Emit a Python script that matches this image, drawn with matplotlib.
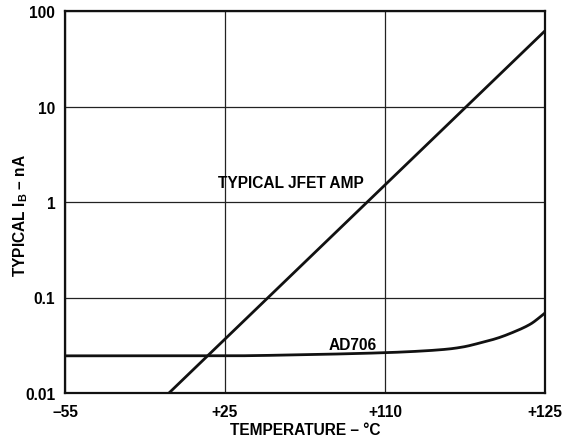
import matplotlib
matplotlib.use("Agg")
import matplotlib.pyplot as plt
import numpy as np

plt.rcParams['font.family'] = ['Liberation Sans', 'DejaVu Sans']
plt.rcParams['font.weight'] = 'bold'
plt.rcParams['mathtext.fontset'] = 'custom'
plt.rcParams['mathtext.rm'] = 'Liberation Sans:bold'
plt.rcParams['mathtext.default'] = 'rm'

# x axis: equally spaced temperature ticks (axis position units)
x_tick_labels = ['–55', '+25', '+110', '+125']
y_tick_values = [0.01, 0.1, 1, 10, 100]
y_tick_labels = ['0.01', '0.1', '1', '10', '100']

# Typical JFET amp (straight line on log scale)
jfet_x = [0.65, 3.0]
jfet_y = [0.01, 62]

# AD706 bias current
ad706_x = [0.0, 0.5, 1.0, 1.5, 1.99, 2.175, 2.39, 2.49, 2.59, 2.70, 2.80, 2.91, 3.0]
ad706_y = [0.0245, 0.0245, 0.0245, 0.0252, 0.0264, 0.0272, 0.0288, 0.0304, 0.0333, 0.0374, 0.0432, 0.0528, 0.0688]

FS = 11.2


def pchip(x, y, xs):
    x = np.asarray(x, float)
    y = np.asarray(y, float)
    h = np.diff(x)
    d = np.diff(y) / h
    m = np.zeros_like(y)
    for k in range(1, len(x) - 1):
        if d[k - 1] * d[k] > 0:
            w1 = 2 * h[k] + h[k - 1]
            w2 = h[k] + 2 * h[k - 1]
            m[k] = (w1 + w2) / (w1 / d[k - 1] + w2 / d[k])
    m[0] = d[0]
    m[-1] = d[-1]
    idx = np.clip(np.searchsorted(x, xs) - 1, 0, len(x) - 2)
    t = (xs - x[idx]) / h[idx]
    h00 = 2 * t**3 - 3 * t**2 + 1
    h10 = t**3 - 2 * t**2 + t
    h01 = -2 * t**3 + 3 * t**2
    h11 = t**3 - t**2
    return h00 * y[idx] + h10 * h[idx] * m[idx] + h01 * y[idx + 1] + h11 * h[idx] * m[idx + 1]


fig = plt.figure(figsize=(5.71, 4.39), dpi=100)
ax = fig.add_axes([65/571, 1-394/439, (545-65)/571, (394-12)/439])

ax.set_yscale('log')
ax.set_xlim(0, 3)
ax.set_ylim(0.01, 100)

ax.set_xticks(range(len(x_tick_labels)))
ax.set_xticklabels(x_tick_labels)
ax.set_yticks(y_tick_values)
ax.set_yticklabels(y_tick_labels)
ax.yaxis.set_minor_locator(matplotlib.ticker.NullLocator())
ax.tick_params(axis='x', length=0, labelsize=FS, pad=8)
ax.tick_params(axis='y', length=0, labelsize=FS, pad=7)
for lbl in ax.get_xticklabels() + ax.get_yticklabels():
    lbl.set_fontweight('bold')

ax.grid(True, which='major', color='#222222', linewidth=0.9)
for s in ax.spines.values():
    s.set_linewidth(1.6)
    s.set_color('#111111')

xs = np.linspace(0, 3, 400)
ys = 10 ** pchip(ad706_x, np.log10(ad706_y), xs)
ax.plot(xs, ys, color='#111111', linewidth=2.0)
ax.plot(jfet_x, jfet_y, color='#111111', linewidth=2.0)

ax.text(1.41, 1.6, 'TYPICAL JFET AMP', fontsize=FS, fontweight='bold',
        ha='center', va='center')
ax.text(1.8, 0.0325, 'AD706', fontsize=FS, fontweight='bold',
        ha='center', va='center')

fig.text(305/571, 1-431/439, 'TEMPERATURE – °C', fontsize=FS, fontweight='bold',
         ha='center', va='center')
fig.text(21/571, 1-216/439, r'TYPICAL I$_\mathrm{B}$ – nA', fontsize=FS, fontweight='bold',
         ha='center', va='center', rotation=90)

fig.savefig('out.png', dpi=100)
